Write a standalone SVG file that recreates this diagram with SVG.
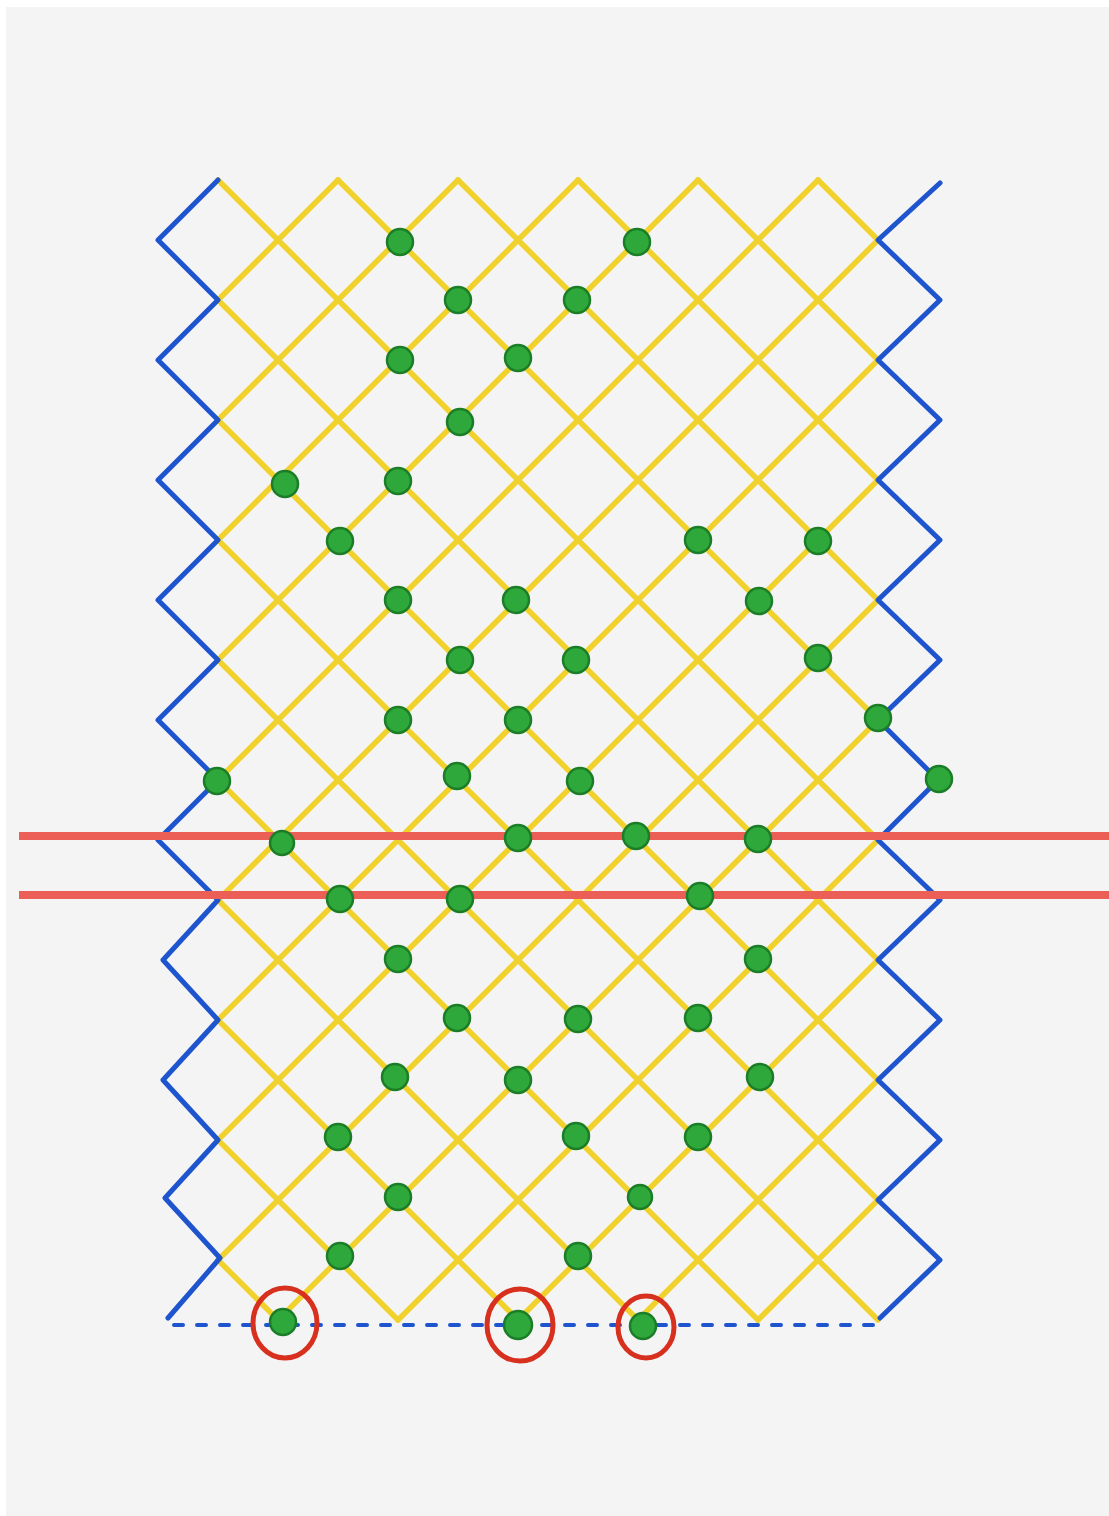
<svg xmlns="http://www.w3.org/2000/svg" width="1109" height="1516" viewBox="0 0 1109 1516">
<style>
.yl{fill:none;stroke:#f1d22c;stroke-width:5.5;stroke-linecap:round;stroke-linejoin:round}
.bl{fill:none;stroke:#1e55cf;stroke-width:5;stroke-linecap:round;stroke-linejoin:round}
.dash{fill:none;stroke:#1e55cf;stroke-width:4;stroke-linecap:round;stroke-dasharray:9 14}
.rl{stroke:#ec5f57;stroke-width:8}
.dot{fill:#2fa83b;stroke:#1b7d28;stroke-width:2.5}
.ring{fill:none;stroke:#d8301e;stroke-width:5}
</style>
<rect x="0" y="0" width="1109" height="1516" fill="#ffffff"/>
<rect x="6" y="7" width="1103" height="1509" fill="#f4f4f4"/>
<g id="connectors">
<path class="yl" d="M818 180L878 240M698 180L878 360M578 180L878 480M458 180L878 600M338 180L878 720M218 180L878 840M218 300L878 960M218 420L878 1080M218 540L878 1200M218 660L878 1320M218 780L758 1320M218 900L638 1320M218 1020L518 1320M218 1140L398 1320M218 1260L278 1320"/>
<path class="yl" d="M338 180L218 300M458 180L218 420M578 180L218 540M698 180L218 660M818 180L218 780M878 240L218 900M878 360L218 1020M878 480L218 1140M878 600L218 1260M878 720L278 1320M878 840L398 1320M878 960L518 1320M878 1080L638 1320M878 1200L758 1320"/>
<polyline class="bl" points="218,180 158,240 218,300 158,360 218,420 158,480 218,540 158,600 218,660 158,720 218,780 158,840 218,900 163,960 218,1020 163,1080 218,1140 165,1198 220,1258 168,1318"/>
<polyline class="bl" points="940,183 878,240 940,300 878,360 940,420 878,480 940,540 878,600 940,660 878,720 938,780 878,840 940,900 878,960 940,1020 878,1080 940,1140 878,1200 940,1260 880,1318"/>
<line class="dash" x1="174" y1="1325" x2="880" y2="1325"/>
<line class="rl" x1="19" y1="836" x2="1109" y2="836"/>
<line class="rl" x1="19" y1="895" x2="1109" y2="895"/>
</g>
<g id="nodes">
<g id="n1"><circle class="dot" cx="400" cy="242" r="13"/></g>
<g id="n2"><circle class="dot" cx="637" cy="242" r="13"/></g>
<g id="n3"><circle class="dot" cx="458" cy="300" r="13"/></g>
<g id="n4"><circle class="dot" cx="577" cy="300" r="13"/></g>
<g id="n5"><circle class="dot" cx="400" cy="360" r="13"/></g>
<g id="n6"><circle class="dot" cx="518" cy="358" r="13"/></g>
<g id="n7"><circle class="dot" cx="460" cy="422" r="13"/></g>
<g id="n8"><circle class="dot" cx="285" cy="484" r="13"/></g>
<g id="n9"><circle class="dot" cx="398" cy="481" r="13"/></g>
<g id="n10"><circle class="dot" cx="340" cy="541" r="13"/></g>
<g id="n11"><circle class="dot" cx="698" cy="540" r="13"/></g>
<g id="n12"><circle class="dot" cx="818" cy="541" r="13"/></g>
<g id="n13"><circle class="dot" cx="398" cy="600" r="13"/></g>
<g id="n14"><circle class="dot" cx="516" cy="600" r="13"/></g>
<g id="n15"><circle class="dot" cx="759" cy="601" r="13"/></g>
<g id="n16"><circle class="dot" cx="460" cy="660" r="13"/></g>
<g id="n17"><circle class="dot" cx="576" cy="660" r="13"/></g>
<g id="n18"><circle class="dot" cx="818" cy="658" r="13"/></g>
<g id="n19"><circle class="dot" cx="398" cy="720" r="13"/></g>
<g id="n20"><circle class="dot" cx="518" cy="720" r="13"/></g>
<g id="n21"><circle class="dot" cx="878" cy="718" r="13"/></g>
<g id="n22"><circle class="dot" cx="217" cy="781" r="13"/></g>
<g id="n23"><circle class="dot" cx="457" cy="776" r="13"/></g>
<g id="n24"><circle class="dot" cx="580" cy="781" r="13"/></g>
<g id="n25"><circle class="dot" cx="939" cy="779" r="13"/></g>
<g id="n26"><circle class="dot" cx="282" cy="843" r="12"/></g>
<g id="n27"><circle class="dot" cx="518" cy="838" r="13"/></g>
<g id="n28"><circle class="dot" cx="636" cy="836" r="13"/></g>
<g id="n29"><circle class="dot" cx="758" cy="839" r="13"/></g>
<g id="n30"><circle class="dot" cx="340" cy="899" r="13"/></g>
<g id="n31"><circle class="dot" cx="460" cy="899" r="13"/></g>
<g id="n32"><circle class="dot" cx="700" cy="896" r="13"/></g>
<g id="n33"><circle class="dot" cx="398" cy="959" r="13"/></g>
<g id="n34"><circle class="dot" cx="758" cy="959" r="13"/></g>
<g id="n35"><circle class="dot" cx="457" cy="1018" r="13"/></g>
<g id="n36"><circle class="dot" cx="578" cy="1019" r="13"/></g>
<g id="n37"><circle class="dot" cx="698" cy="1018" r="13"/></g>
<g id="n38"><circle class="dot" cx="395" cy="1077" r="13"/></g>
<g id="n39"><circle class="dot" cx="518" cy="1080" r="13"/></g>
<g id="n40"><circle class="dot" cx="760" cy="1077" r="13"/></g>
<g id="n41"><circle class="dot" cx="338" cy="1137" r="13"/></g>
<g id="n42"><circle class="dot" cx="576" cy="1136" r="13"/></g>
<g id="n43"><circle class="dot" cx="698" cy="1137" r="13"/></g>
<g id="n44"><circle class="dot" cx="398" cy="1197" r="13"/></g>
<g id="n45"><circle class="dot" cx="640" cy="1197" r="12"/></g>
<g id="n46"><circle class="dot" cx="340" cy="1256" r="13"/></g>
<g id="n47"><circle class="dot" cx="578" cy="1256" r="13"/></g>
<g id="n48"><circle class="dot" cx="283" cy="1322" r="13"/><ellipse class="ring" cx="285" cy="1323" rx="32" ry="35"/></g>
<g id="n49"><circle class="dot" cx="518" cy="1325" r="14"/><ellipse class="ring" cx="520" cy="1325" rx="33" ry="36"/></g>
<g id="n50"><circle class="dot" cx="643" cy="1326" r="13"/><ellipse class="ring" cx="646" cy="1327" rx="28" ry="31"/></g>
</g>
</svg>
